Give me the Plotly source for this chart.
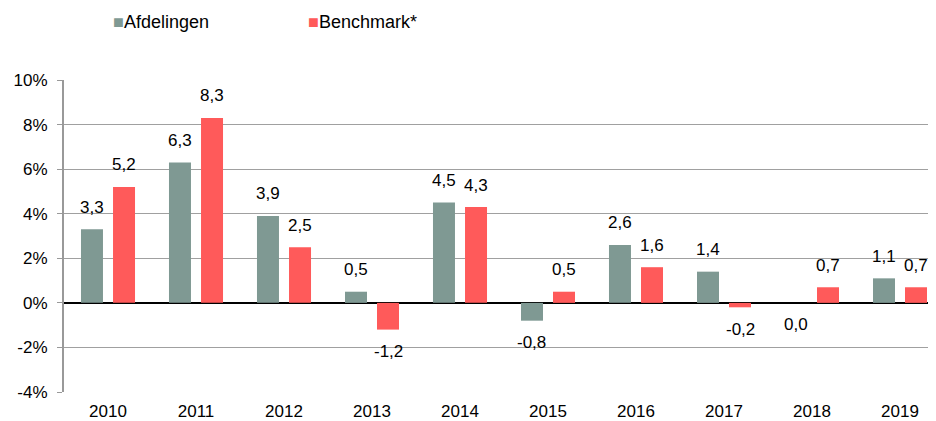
import plotly.graph_objects as go

years = ["2010", "2011", "2012", "2013", "2014", "2015", "2016", "2017", "2018", "2019"]
afdelingen = [3.3, 6.3, 3.9, 0.5, 4.5, -0.8, 2.6, 1.4, 0.0, 1.1]
benchmark = [5.2, 8.3, 2.5, -1.2, 4.3, 0.5, 1.6, -0.2, 0.7, 0.7]
y_ticks = [-4, -2, 0, 2, 4, 6, 8, 10]

GRAY = "#7f9993"
RED = "#ff5a5a"
FONT = "Liberation Sans, Arial, sans-serif"
FS = 17

# page body has an 8px margin; compensate so the plot lands where the reference has it
OFF = 8
W, H = 936 - OFF, 421 - OFF
ML, MR, MT, MB = 64 - OFF, 0, 80 - OFF, 29
PW, PH = W - ML - MR, H - MT - MB

idx = list(range(len(years)))
bar_w = 0.25
gap = 0.114
x_hi = -0.5 + PW / 88.0

fig = go.Figure()
fig.add_trace(go.Bar(x=idx, y=afdelingen, name="Afdelingen", width=bar_w,
                     offset=-(bar_w + gap / 2), marker=dict(color=GRAY, line=dict(width=0))))
fig.add_trace(go.Bar(x=idx, y=benchmark, name="Benchmark*", width=bar_w,
                     offset=gap / 2, marker=dict(color=RED, line=dict(width=0))))

annotations = []
for vals, off in ((afdelingen, -(bar_w + gap) / 2), (benchmark, (bar_w + gap) / 2)):
    for i, v in zip(idx, vals):
        annotations.append(dict(
            x=i + off, y=v, xref="x", yref="y", showarrow=False,
            text=f"{v:.1f}".replace(".", ","),
            yshift=22 if v > 0 else -22, yanchor="middle",
            font=dict(size=FS, color="#000", family=FONT)))

# legend drawn as text entries
legend_y = 1 + (MT - (22 - OFF)) / PH
for name, color, px in (("Afdelingen", GRAY, 111 - OFF), ("Benchmark*", RED, 306 - OFF)):
    annotations.append(dict(
        x=(px - ML) / PW, y=legend_y, xref="paper", yref="paper",
        xanchor="left", yanchor="middle", showarrow=False,
        text=f"<span style='color:{color}'>■</span>{name}",
        font=dict(size=18, color="#000", family=FONT)))

fig.update_layout(
    width=W, height=H,
    margin=dict(l=ML, r=MR, t=MT, b=MB),
    paper_bgcolor="white", plot_bgcolor="white",
    barmode="overlay",
    font=dict(family=FONT, size=FS, color="#000"),
    showlegend=False,
    xaxis=dict(range=[-0.5, x_hi], tickvals=idx, ticktext=years, ticks="",
               showline=False, showgrid=False, zeroline=False, automargin=False,
               ticklabelstandoff=7,
               tickfont=dict(size=FS)),
    xaxis2=dict(overlaying="x", anchor="free", position=4 / 14, range=[-0.5, x_hi],
                tickvals=[i - 0.5 for i in range(len(years) + 1)], showticklabels=False,
                ticks="outside", ticklen=5, tickwidth=2, tickcolor="#000", automargin=False,
                showline=False, showgrid=False, zeroline=False),
    yaxis=dict(range=[-4, 10], tickvals=y_ticks, ticktext=[f"{t}%" for t in y_ticks],
               showgrid=True, gridcolor="#a0a0a0", gridwidth=1,
               zeroline=True, zerolinecolor="#000", zerolinewidth=2,
               showline=True, linecolor="#999", linewidth=2, automargin=False,
               ticks="outside", ticklen=5, tickcolor="#999", tickwidth=1,
               ticklabelstandoff=6,
               tickfont=dict(size=FS)),
    annotations=annotations,
)

fig.write_html("out.html")
